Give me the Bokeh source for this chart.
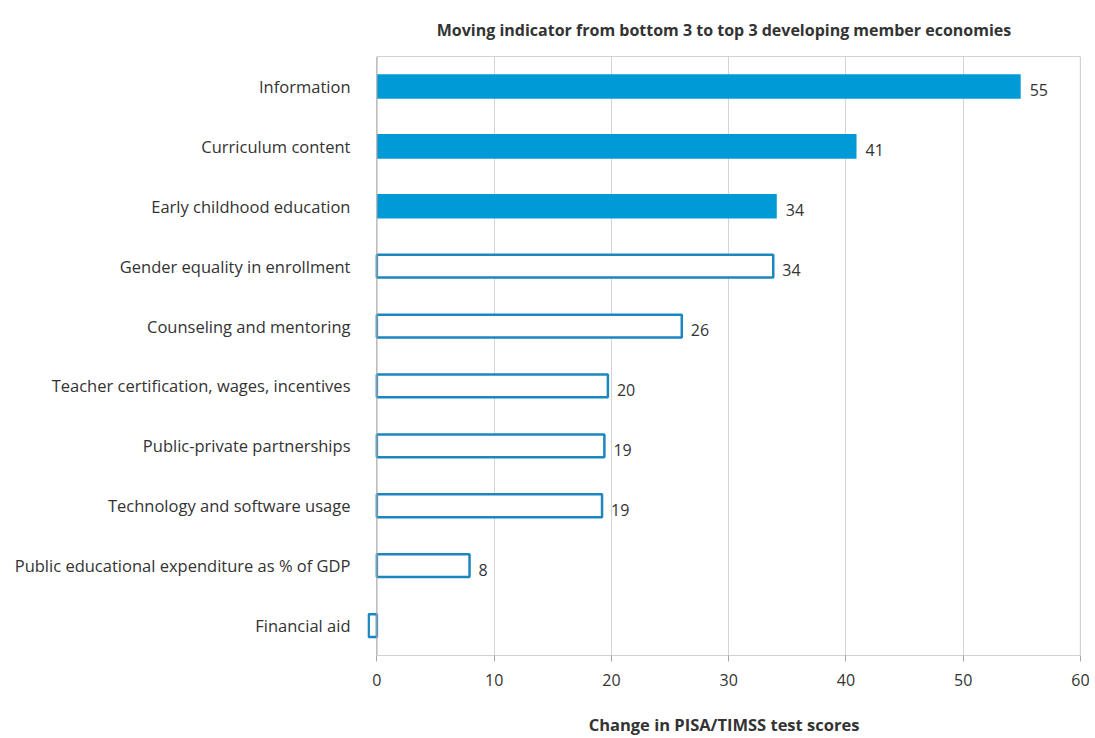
from bokeh.plotting import figure
from bokeh.models import Range1d, FixedTicker, ColumnDataSource, Span
from bokeh.embed import file_html
from bokeh.resources import INLINE
from bokeh.core.properties import value

# ---- data (top to bottom) ----
categories = [
    "Information",
    "Curriculum content",
    "Early childhood education",
    "Gender equality in enrollment",
    "Counseling and mentoring",
    "Teacher certification, wages, incentives",
    "Public-private partnerships",
    "Technology and software usage",
    "Public educational expenditure as % of GDP",
    "Financial aid",
]
scores = [54.9, 40.9, 34.1, 33.8, 26.0, 19.7, 19.4, 19.2, 7.9, -0.7]
highlighted = [True, True, True, False, False, False, False, False, False, False]
x_ticks = [0, 10, 20, 30, 40, 50, 60]

title_text = "Moving indicator from bottom 3 to top 3 developing member economies"
x_label = "Change in PISA/TIMSS test scores"

FONT = "Open Sans"
BLUE = "#009AD6"
OUTLINE = "#1B87C1"
TEXT = "#333333"

n = len(categories)
ypos = [n - i - 0.5 for i in range(n)]
labels = [str(int(round(v))) if v > 0 else "" for v in scores]

X_MIN, X_MAX = -0.8, 60

p = figure(width=1095, height=738, output_backend="svg", toolbar_location=None,
           x_range=Range1d(X_MIN, X_MAX), y_range=Range1d(0, n),
           min_border_left=367, min_border_right=15, min_border_top=54,
           min_border_bottom=76)

p.outline_line_color = None
p.background_fill_color = "white"
p.border_fill_color = "white"

# title
p.title.text = title_text
p.title.align = "center"
p.title.text_font = FONT
p.title.text_font_style = "bold"
p.title.text_font_size = "16px"
p.title.text_color = TEXT
p.title.standoff = 32

# grid
p.ygrid.grid_line_color = None
p.xgrid.ticker = FixedTicker(ticks=x_ticks[1:-1])
p.xgrid.grid_line_color = "#d4d4d4"
p.xgrid.grid_line_width = 1

# x axis
p.xaxis.ticker = FixedTicker(ticks=x_ticks)
p.xaxis.axis_line_color = None
p.xaxis.major_tick_line_color = "#a6a6a6"
p.xaxis.major_tick_out = 6
p.xaxis.major_tick_in = 0
p.xaxis.minor_tick_line_color = None
p.xaxis.major_label_text_font = FONT
p.xaxis.major_label_text_font_size = "16px"
p.xaxis.major_label_text_color = TEXT
p.xaxis.major_label_standoff = 12
p.xaxis.axis_label = x_label
p.xaxis.axis_label_text_font = FONT
p.xaxis.axis_label_text_font_style = "bold"
p.xaxis.axis_label_text_font_size = "16.5px"
p.xaxis.axis_label_text_color = TEXT
p.xaxis.axis_label_standoff = 24

# y axis with category labels
p.yaxis.ticker = FixedTicker(ticks=ypos)
p.yaxis.major_label_overrides = {y: c for y, c in zip(ypos, categories)}
p.yaxis.axis_line_color = None
p.yaxis.major_tick_line_color = None
p.yaxis.minor_tick_line_color = None
p.yaxis.major_label_text_font = FONT
p.yaxis.major_label_text_font_size = "16.5px"
p.yaxis.major_label_text_color = TEXT
p.yaxis.major_label_standoff = 11

# frame lines
p.add_layout(Span(location=X_MAX, dimension="height", line_color="#a6a6a6", line_width=1.2))
p.add_layout(Span(location=0, dimension="height", line_color="#a6a6a6", line_width=1.2))
p.segment(x0=[0, 0], x1=[X_MAX, X_MAX], y0=[0, n], y1=[0, n],
          line_color="#a6a6a6", line_width=1.2)

# bars
fill_src = ColumnDataSource(dict(
    y=[y for y, h in zip(ypos, highlighted) if h],
    v=[v for v, h in zip(scores, highlighted) if h]))
out_src = ColumnDataSource(dict(
    y=[y for y, h in zip(ypos, highlighted) if not h],
    v=[v for v, h in zip(scores, highlighted) if not h]))

p.hbar(y="y", left=0, right="v", height=0.41, source=fill_src,
       fill_color=BLUE, line_color=None)
p.hbar(y="y", left=0, right="v", height=0.38, source=out_src,
       fill_color="white", line_color=OUTLINE, line_width=2.5)

# value labels
lab_src = ColumnDataSource(dict(x=scores, y=ypos, t=labels))
p.text(x="x", y="y", text="t", source=lab_src, x_offset=9, y_offset=4,
       text_font=value(FONT), text_font_size="16px", text_color=TEXT,
       text_baseline="middle", text_align="left")

open("out.html", "w").write(file_html(p, INLINE))
